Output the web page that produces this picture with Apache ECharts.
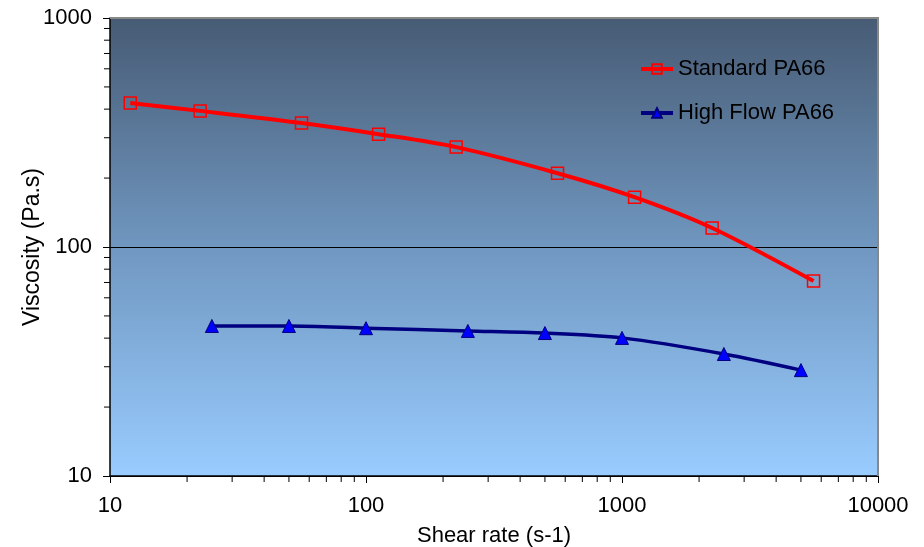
<!DOCTYPE html>
<html>
<head>
<meta charset="utf-8">
<script src="https://cdn.jsdelivr.net/npm/echarts@6/dist/echarts.min.js"></script>
<style>
  html, body { margin: 0; padding: 0; background: #ffffff; }
  #chart { width: 924px; height: 547px; }
</style>
</head>
<body>
<div id="chart"></div>
<script>
// Data
const standardShear = [12, 22.5, 56, 112, 225, 560, 1120, 2250, 5600];
const standardVisc  = [425, 393, 348, 311, 273, 210, 165, 121, 71];
const highFlowShear = [25, 50, 100, 250, 500, 1000, 2500, 5000];
const highFlowVisc  = [45.2, 45.2, 44.2, 43.0, 42.1, 40.1, 34.1, 29.0];
const seriesNames = ['Standard PA66', 'High Flow PA66'];
const xMinorTicks = [20,30,40,50,60,70,80,90,200,300,400,500,600,700,800,900,2000,3000,4000,5000,6000,7000,8000,9000];
const yMinorTicks = [20,30,40,50,60,70,80,90,200,300,400,500,600,700,800,900];

const chart = echarts.init(document.getElementById('chart'), null, { renderer: 'canvas' });
const font = 'Liberation Sans, Arial, sans-serif';

const option = {
  animation: false,
  backgroundColor: '#ffffff',
  grid: {
    left: 110, right: 46, top: 18, bottom: 71,
    outerBoundsMode: 'none',
    containLabel: false,
    show: true,
    borderWidth: 0,
    backgroundColor: {
      type: 'linear', x: 0, y: 0, x2: 0, y2: 1,
      colorStops: [
        { offset: 0, color: '#475b74' },
        { offset: 0.5, color: '#7097c0' },
        { offset: 1, color: '#99ccff' }
      ]
    }
  },
  legend: {
    data: seriesNames,
    orient: 'vertical',
    left: 634, top: 53,
    itemGap: 22,
    itemWidth: 32, itemHeight: 12,
    lineStyle: { width: 4 },
    textStyle: { fontFamily: font, fontSize: 22, color: '#000000' }
  },
  xAxis: {
    type: 'log', logBase: 10, min: 10, max: 10000,
    name: 'Shear rate (s-1)', nameLocation: 'middle', nameGap: 49,
    nameMoveOverlap: false,
    nameTextStyle: { fontFamily: font, fontSize: 22, color: '#000' },
    axisLine: { show: true, lineStyle: { color: '#000', width: 1.5 } },
    axisTick: { show: true, inside: false, length: 7, lineStyle: { color: '#000' } },
    axisLabel: { fontFamily: font, fontSize: 22, color: '#000', margin: 19,
                 formatter: v => String(Math.round(v)) },
    splitLine: { show: false }
  },
  yAxis: {
    type: 'log', logBase: 10, min: 10, max: 1000,
    name: 'Viscosity (Pa.s)', nameLocation: 'middle', nameGap: 66,
    nameMoveOverlap: false,
    nameTextStyle: { fontFamily: font, fontSize: 23, color: '#000' },
    axisLine: { show: true, lineStyle: { color: '#000', width: 1.5 } },
    axisTick: { show: true, inside: false, length: 7, lineStyle: { color: '#000' } },
    axisLabel: { fontFamily: font, fontSize: 22, color: '#000', margin: 18,
                 formatter: v => String(Math.round(v)) },
    splitLine: { show: true, lineStyle: { color: '#000', width: 1 } }
  },
  series: [
    {
      name: seriesNames[0], type: 'line', smooth: 0.3,
      data: standardShear.map((x, i) => [x, standardVisc[i]]),
      symbol: 'rect', symbolSize: 12,
      itemStyle: { color: 'rgba(0,0,0,0)', borderColor: '#ff0000', borderWidth: 1.5 },
      lineStyle: { color: '#ff0000', width: 4 },
      z: 3
    },
    {
      name: seriesNames[1], type: 'line', smooth: 0.3,
      data: highFlowShear.map((x, i) => [x, highFlowVisc[i]]),
      symbol: 'triangle', symbolSize: 13,
      itemStyle: { color: '#0000ff', borderColor: '#000080', borderWidth: 1 },
      lineStyle: { color: '#000080', width: 3.5 },
      z: 3
    },
    {
      type: 'custom', silent: true, clip: false,
      data: xMinorTicks.map(v => [v, 10]),
      renderItem: (params, api) => {
        const p = api.coord([api.value(0), api.value(1)]);
        return { type: 'line', shape: { x1: p[0], y1: p[1], x2: p[0], y2: p[1] + 6 },
                 style: { stroke: '#000', lineWidth: 1 } };
      },
      z: 2
    },
    {
      type: 'custom', silent: true, clip: false,
      data: yMinorTicks.map(v => [10, v]),
      renderItem: (params, api) => {
        const p = api.coord([api.value(0), api.value(1)]);
        return { type: 'line', shape: { x1: p[0] - 6, y1: p[1], x2: p[0], y2: p[1] },
                 style: { stroke: '#000', lineWidth: 1 } };
      },
      z: 2
    }
  ],
  graphic: []
};
chart.setOption(option);
// top/right border of plot area
const g = chart.getModel().getComponent('grid').coordinateSystem.getRect();
chart.setOption({ graphic: [
  { type: 'polyline', shape: { points: [[g.x, g.y], [g.x + g.width, g.y], [g.x + g.width, g.y + g.height]] },
    style: { stroke: '#888888', lineWidth: 2, fill: null }, z: 1 }
]});
</script>
</body>
</html>
